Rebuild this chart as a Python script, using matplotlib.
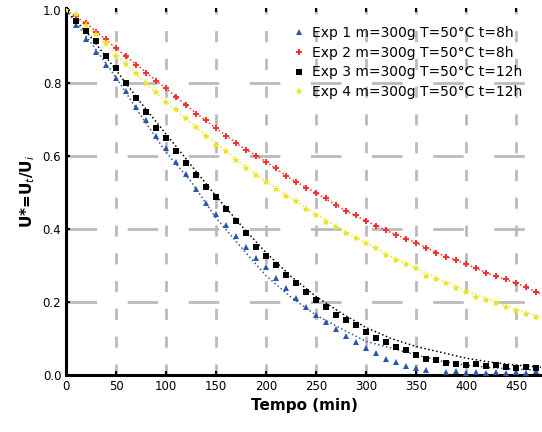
import numpy as np
import matplotlib
matplotlib.use("Agg")
import matplotlib.pyplot as plt

# tempo dos pontos experimentais (min), a cada 10 min
tempo = np.arange(0, 480, 10)

u_exp1 = [1.00, 0.96, 0.92, 0.885, 0.85, 0.815, 0.778, 0.733, 0.70, 0.656,
          0.622, 0.584, 0.55, 0.51, 0.47, 0.44, 0.41, 0.38, 0.35, 0.32,
          0.295, 0.265, 0.237, 0.21, 0.185, 0.163, 0.145, 0.125, 0.108, 0.09,
          0.074, 0.06, 0.045, 0.036, 0.025, 0.02, 0.014, 0.04, 0.008, 0.01,
          0.006, 0.009, 0.005, 0.007, 0.005, 0.008, 0.006, 0.01]
u_exp2 = [1.00, 0.985, 0.965, 0.94, 0.92, 0.895, 0.875, 0.85, 0.827, 0.805,
          0.785, 0.762, 0.74, 0.715, 0.70, 0.676, 0.655, 0.636, 0.616, 0.60,
          0.584, 0.567, 0.545, 0.529, 0.512, 0.499, 0.485, 0.466, 0.449, 0.438,
          0.422, 0.408, 0.397, 0.384, 0.373, 0.362, 0.348, 0.334, 0.323, 0.315,
          0.304, 0.293, 0.279, 0.271, 0.263, 0.252, 0.241, 0.227]
u_exp3 = [1.00, 0.97, 0.943, 0.915, 0.875, 0.84, 0.80, 0.76, 0.72, 0.678,
          0.65, 0.615, 0.58, 0.548, 0.515, 0.487, 0.455, 0.423, 0.388, 0.351,
          0.326, 0.30, 0.274, 0.252, 0.227, 0.205, 0.186, 0.164, 0.151, 0.137,
          0.118, 0.101, 0.09, 0.077, 0.068, 0.055, 0.045, 0.04, 0.033, 0.03,
          0.027, 0.03, 0.024, 0.026, 0.022, 0.02, 0.022, 0.02]
u_exp4 = [1.00, 0.99, 0.96, 0.935, 0.91, 0.875, 0.853, 0.827, 0.80, 0.776,
          0.748, 0.73, 0.703, 0.68, 0.656, 0.63, 0.614, 0.589, 0.568, 0.548,
          0.529, 0.51, 0.49, 0.477, 0.456, 0.438, 0.419, 0.405, 0.389, 0.375,
          0.362, 0.347, 0.329, 0.315, 0.304, 0.293, 0.272, 0.263, 0.252, 0.239,
          0.227, 0.214, 0.205, 0.197, 0.186, 0.175, 0.168, 0.158]

# curvas ajustadas (pontilhadas), a cada 25 min
tempo_fit = np.arange(0, 500, 25)
fit_exp1 = [1.0, 0.91, 0.815, 0.71, 0.61, 0.53, 0.43, 0.35, 0.272, 0.213,
            0.164, 0.127, 0.092, 0.074, 0.055, 0.038, 0.027, 0.02, 0.016, 0.013]
fit_exp2 = [1.0, 0.953, 0.895, 0.84, 0.785, 0.728, 0.676, 0.626, 0.584, 0.537,
            0.499, 0.457, 0.422, 0.39, 0.362, 0.33, 0.304, 0.275, 0.252, 0.222]
fit_exp3 = [1.0, 0.925, 0.835, 0.745, 0.66, 0.575, 0.49, 0.41, 0.335, 0.27,
            0.215, 0.17, 0.13, 0.10, 0.078, 0.062, 0.046, 0.035, 0.027, 0.021]
fit_exp4 = [1.0, 0.945, 0.878, 0.812, 0.748, 0.69, 0.635, 0.58, 0.53, 0.485,
            0.44, 0.40, 0.362, 0.325, 0.293, 0.26, 0.232, 0.205, 0.18, 0.158]

labels = ["Exp 1 m=300g T=50°C t=8h",
          "Exp 2 m=300g T=50°C t=8h",
          "Exp 3 m=300g T=50°C t=12h",
          "Exp 4 m=300g T=50°C t=12h"]
xticks = [0, 50, 100, 150, 200, 250, 300, 350, 400, 450]
yticks = [0.0, 0.2, 0.4, 0.6, 0.8, 1.0]

cores = ["#2b57a8", "#ec3532", "#000000", "#ebe52a"]
marcadores = ["^", "P", "s", "*"]
tamanhos = [4.5, 5, 4, 6]

fig = plt.figure(figsize=(5.42, 4.32), dpi=100)
ax = fig.add_axes([0.122, 0.132, 0.878, 0.849])

dados = [u_exp1, u_exp2, u_exp3, u_exp4]
fits = [fit_exp1, fit_exp2, fit_exp3, fit_exp4]
for u, f, c, m, s, lab in zip(dados, fits, cores, marcadores, tamanhos, labels):
    ax.plot(tempo_fit, f, ':', color=c, lw=1.1, zorder=2)
    ax.plot(tempo, u, linestyle='none', marker=m, color=c, ms=s, mew=0,
            label=lab, zorder=3)

ax.set_xlim(0, 476)
ax.set_ylim(0, 1.005)
ax.set_xticks(xticks)
ax.set_yticks(yticks)
ax.set_yticklabels([f"{v:.1f}" for v in yticks])

for x in xticks[1:]:
    ax.axvline(x, color="#bbbbbb", lw=2, dashes=(4, 6), zorder=1)
for y in yticks[1:-1]:
    ax.axhline(y, color="#bbbbbb", lw=2, dashes=(11, 11), zorder=1)

ax.spines['top'].set_visible(False)
ax.spines['right'].set_visible(False)
ax.spines['left'].set_linewidth(2.2)
ax.spines['bottom'].set_linewidth(2.2)
ax.tick_params(direction='in', length=3, width=1.5, labelsize=8.5, top=True)

ax.set_xlabel("Tempo (min)", fontsize=11, fontweight='bold')
ax.set_ylabel("U*=U$_t$/U$_i$", fontsize=11, fontweight='bold')

ax.legend(loc='upper right', bbox_to_anchor=(0.975, 0.975), frameon=False,
          fontsize=10, handletextpad=0.3, labelspacing=0.42, borderaxespad=0.2,
          handlelength=1.2)

fig.savefig("out.png", dpi=100)
